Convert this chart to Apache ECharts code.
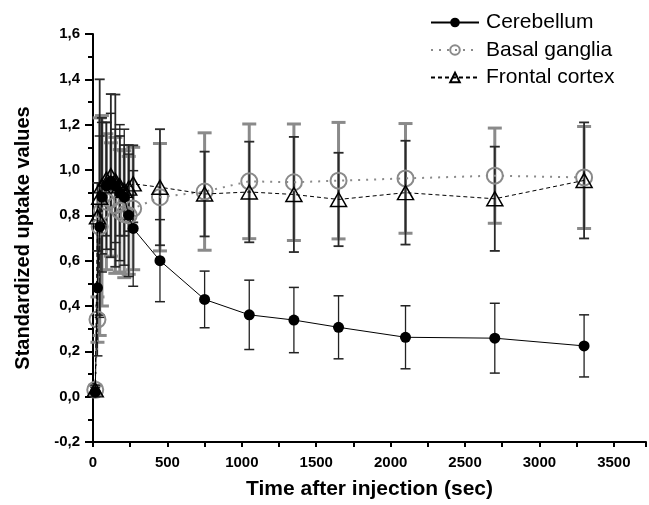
<!DOCTYPE html>
<html>
<head>
<meta charset="utf-8">
<script src="https://cdn.jsdelivr.net/npm/echarts@6/dist/echarts.min.js"></script>
<style>
html,body{margin:0;padding:0;background:#fff;}
#chart{width:649px;height:505px;}
</style>
</head>
<body>
<div id="chart"></div>
<script>
// ---- data (time in seconds, SUV mean and SD) ----
const times = [15, 30, 45, 60, 90, 120, 150, 180, 210, 240, 270, 450, 750, 1050, 1350, 1650, 2100, 2700, 3300];

const cerebellumMean = [0.02, 0.48, 0.75, 0.88, 0.93, 0.95, 0.93, 0.90, 0.88, 0.80, 0.742, 0.600, 0.429, 0.361, 0.338, 0.306, 0.262, 0.258, 0.224];
const cerebellumSD   = [0.02, 0.30, 0.40, 0.33, 0.28, 0.30, 0.25, 0.30, 0.30, 0.27, 0.255, 0.181, 0.125, 0.153, 0.144, 0.139, 0.139, 0.154, 0.137];

const basalMean = [0.03, 0.34, 0.75, 0.82, 0.86, 0.87, 0.844, 0.82, 0.805, 0.80, 0.83, 0.88, 0.905, 0.95, 0.946, 0.953, 0.963, 0.975, 0.967];
const basalSD   = [0.02, 0.10, 0.48, 0.42, 0.30, 0.25, 0.30, 0.27, 0.28, 0.26, 0.27, 0.237, 0.259, 0.253, 0.257, 0.257, 0.242, 0.21, 0.225];

const frontalMean = [0.03, 0.793, 0.88, 0.93, 0.96, 0.975, 0.953, 0.93, 0.91, 0.92, 0.939, 0.924, 0.894, 0.903, 0.892, 0.87, 0.90, 0.873, 0.954];
const frontalSD   = [0.02, 0.15, 0.52, 0.30, 0.25, 0.36, 0.38, 0.22, 0.20, 0.19, 0.17, 0.256, 0.187, 0.222, 0.254, 0.206, 0.229, 0.23, 0.256];

const seriesNames = ['Cerebellum', 'Basal ganglia', 'Frontal cortex'];
const xTicks = { min: 0, max: 3716, interval: 500 };
const yTicks = { min: -0.2, max: 1.6, interval: 0.2 };
const xTitle = 'Time after injection (sec)';
const yTitle = 'Standardized uptake values';

// ---- build ----
function pts(mean){ return times.map((t,i)=>[t, mean[i]]); }
function errs(mean, sd){ return times.map((t,i)=>[t, mean[i]-sd[i], mean[i]+sd[i]]); }

function errRender(capHalf, color, width, capW){
  return function(params, api){
    const x = api.value(0), lo = api.value(1), hi = api.value(2);
    const a = api.coord([x, hi]), b = api.coord([x, lo]);
    return { type:'group', children:[
      {type:'line', shape:{x1:a[0],y1:a[1],x2:b[0],y2:b[1]}, style:{stroke:color, lineWidth:width}},
      {type:'line', shape:{x1:a[0]-capHalf,y1:a[1],x2:a[0]+capHalf,y2:a[1]}, style:{stroke:color, lineWidth:capW}},
      {type:'line', shape:{x1:b[0]-capHalf,y1:b[1],x2:b[0]+capHalf,y2:b[1]}, style:{stroke:color, lineWidth:capW}}
    ]};
  };
}

const FONT = '"Liberation Sans", Arial, sans-serif';
const chart = echarts.init(document.getElementById('chart'), null, {renderer:'canvas'});

chart.setOption({
  animation: false,
  backgroundColor: '#fff',
  grid: { left: 93, right: 0, top: 34, bottom: 59, containLabel: false },
  legend: {
    orient: 'vertical', left: 425, top: 7, itemWidth: 48, itemHeight: 12, itemGap: 6.5,
    textStyle: { fontFamily: FONT, fontSize: 21, color: '#000', lineHeight: 21, padding:[0,0,0,2] },
    data: seriesNames
  },
  xAxis: {
    type: 'value', min: xTicks.min, max: xTicks.max, interval: xTicks.interval,
    name: xTitle, nameLocation: 'middle', nameGap: 37,
    nameTextStyle: { fontFamily: FONT, fontSize: 21, fontWeight: 'bold', color: '#000' },
    axisLine: { show: true, onZero: false, lineStyle: { color: '#000', width: 2 } },
    axisTick: { show: true, length: 5, lineStyle: { color: '#000', width: 2 } },
    minorTick: { show: true, splitNumber: 2, length: 5, lineStyle: { color: '#000', width: 2 } },
    splitLine: { show: false },
    axisLabel: { fontFamily: FONT, fontSize: 15, fontWeight: 'bold', color: '#000', margin: 13,
      formatter: v => (v % 500 === 0 ? String(v) : '') }
  },
  yAxis: {
    type: 'value', min: yTicks.min, max: yTicks.max, interval: yTicks.interval,
    name: yTitle, nameLocation: 'middle', nameGap: 60, nameRotate: 90,
    nameTextStyle: { fontFamily: FONT, fontSize: 20, fontWeight: 'bold', color: '#000' },
    axisLine: { show: true, onZero: false, lineStyle: { color: '#000', width: 2 } },
    axisTick: { show: true, length: 8, lineStyle: { color: '#000', width: 2 } },
    minorTick: { show: true, splitNumber: 2, length: 5, lineStyle: { color: '#000', width: 2 } },
    splitLine: { show: false },
    axisLabel: { fontFamily: FONT, fontSize: 15, fontWeight: 'bold', color: '#000', margin: 13,
      formatter: v => v.toFixed(1).replace('.', ',') }
  },
  series: [
    { type:'custom', name:'bgErr', z:2, silent:true, renderItem: errRender(7, '#8a8a8a', 3, 3),
      encode:{x:0, y:[1,2]}, data: errs(basalMean, basalSD) },
    { type:'custom', name:'fcErr', z:3, silent:true, renderItem: errRender(5, '#2a2a2a', 1.8, 1.8),
      encode:{x:0, y:[1,2]}, data: errs(frontalMean, frontalSD) },
    { type:'custom', name:'cbErr', z:4, silent:true, renderItem: errRender(5, '#222', 1.3, 1.5),
      encode:{x:0, y:[1,2]}, data: errs(cerebellumMean, cerebellumSD) },
    { type:'line', name: seriesNames[1], z:5, data: pts(basalMean),
      symbol:'circle', symbolSize:16,
      itemStyle:{ color:'transparent', borderColor:'#8a8a8a', borderWidth:2 },
      lineStyle:{ color:'#8a8a8a', width:2, type:[2,6] } },
    { type:'line', name: seriesNames[2], z:6, data: pts(frontalMean),
      symbol:'triangle', symbolSize:[16,14],
      itemStyle:{ color:'transparent', borderColor:'#000', borderWidth:1.5 },
      lineStyle:{ color:'#000', width:1, type:[4,3] } },
    { type:'line', name: seriesNames[0], z:7, data: pts(cerebellumMean),
      symbol:'circle', symbolSize:11,
      itemStyle:{ color:'#000', borderColor:'#000', borderWidth:0 },
      lineStyle:{ color:'#000', width:1 } }
  ]
});
</script>
</body>
</html>
